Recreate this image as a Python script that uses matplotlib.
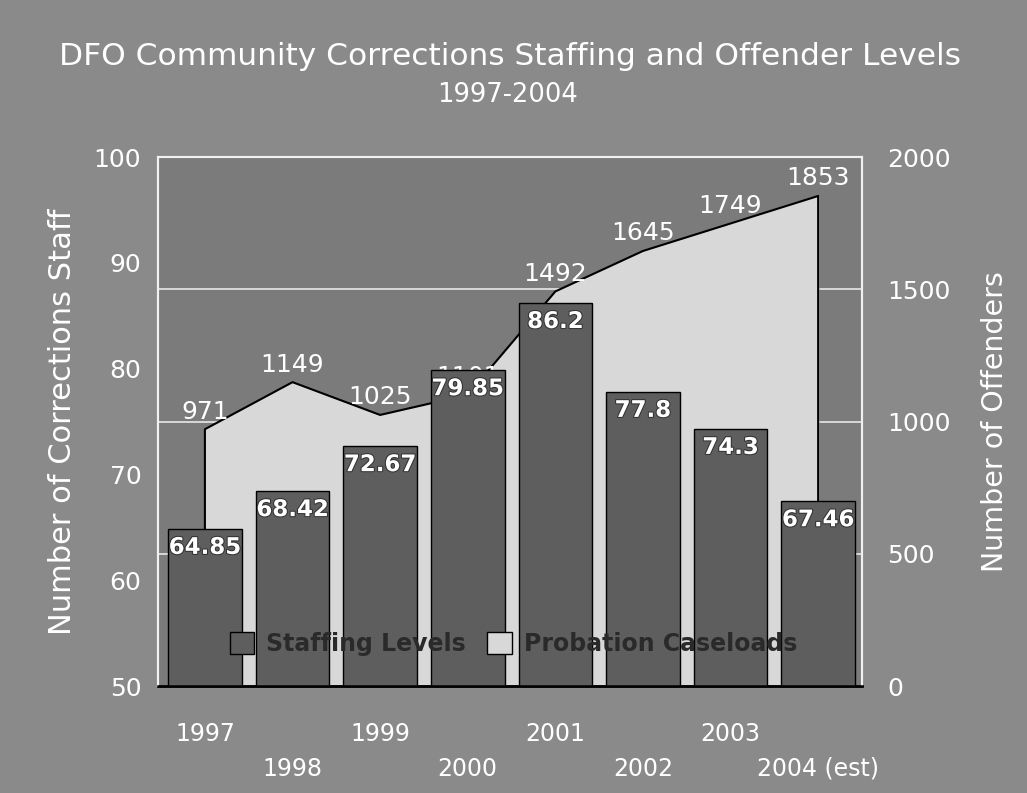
import numpy as np
import matplotlib
matplotlib.use('Agg')
from matplotlib import pyplot as plt
from matplotlib.patches import Patch
import matplotlib.patheffects as pe

# data
years = ['1997', '1998', '1999', '2000', '2001', '2002', '2003', '2004 (est)']
staff = [64.85, 68.42, 72.67, 79.85, 86.2, 77.8, 74.3, 67.46]
caseload = [971, 1149, 1025, 1101, 1492, 1645, 1749, 1853]

bg = '#8a8a8a'
plotbg = '#7b7b7b'
barcol = '#5e5e5e'
areacol = '#d8d8d8'
white = 'white'

plt.rcParams['font.family'] = 'DejaVu Sans'

fig = plt.figure(figsize=(10.27, 7.93), dpi=100, facecolor=bg)
ax2 = fig.add_axes([0.1538, 0.1349, 0.6855, 0.667])
ax = ax2.twinx()
# bars (left scale) sit above the area (right scale)
ax.set_zorder(ax2.get_zorder() + 1)
ax.patch.set_visible(False)
ax2.set_facecolor(plotbg)

x = np.arange(len(years))

# ---- area: probation caseloads (right axis, drawn on ax2) ----
ax2.fill_between(x, 0, caseload, color=areacol, zorder=2)
ax2.plot(np.r_[x[0], x, x[-1]], np.r_[0, caseload, 0], color='black', lw=1.5, zorder=3)
for xi, v in zip(x, caseload):
    ax2.annotate(str(v), (xi, v), xytext=(0, 4), textcoords='offset points',
                 ha='center', va='bottom', fontsize=18, color=white, zorder=4)
ax2.set_ylim(0, 2000)
ax2.set_yticks([0, 500, 1000, 1500, 2000])
ax2.grid(axis='y', color='#e8e8e8', lw=1.2, zorder=0)
ax2.set_axisbelow(True)

# ---- bars: staffing levels (left axis) ----
bars = ax.bar(x, staff, width=0.84, bottom=0, color=barcol, edgecolor='black', lw=1.0, zorder=2)
for xi, v in zip(x, staff):
    ax.annotate(f'{v:g}', (xi, v), xytext=(0, -5), textcoords='offset points',
                ha='center', va='top', fontsize=16.5, fontweight='bold', color=white, zorder=4,
                path_effects=[pe.withStroke(linewidth=1.5, foreground='#333333')])
ax.set_ylim(50, 100)
ax.set_xlim(-0.536, 7.5)

# left axis lives on ax2's side: move ticks around
ax.yaxis.tick_left()
ax.yaxis.set_label_position('left')
ax2.yaxis.tick_right()
ax2.yaxis.set_label_position('right')
ax.set_yticks([50, 60, 70, 80, 90, 100])
ax.tick_params(axis='y', length=0, pad=12, labelsize=18, labelcolor=white)
ax2.tick_params(axis='y', length=0, pad=18, labelsize=18, labelcolor=white)

# staggered x labels (shared x axis is drawn by ax2)
ax2.set_xticks(x[::2])
ax2.set_xticklabels(years[::2])
ax2.set_xticks(x[1::2], minor=True)
ax2.set_xticklabels(years[1::2], minor=True)
ax2.tick_params(axis='x', which='major', length=0, pad=26, labelsize=17, labelcolor=white)
ax2.tick_params(axis='x', which='minor', length=0, pad=51, labelsize=17, labelcolor=white)
ax.tick_params(axis='x', which='both', length=0, labelbottom=False)

ax.set_ylabel('Number of Corrections Staff', fontsize=22, color=white, labelpad=12)
ax2.set_ylabel('Number of Offenders', fontsize=20.5, color=white, labelpad=22)

for a in (ax, ax2):
    for s in ('top', 'left', 'right'):
        a.spines[s].set_color('#f0f0f0')
        a.spines[s].set_linewidth(1.5)
    a.spines['bottom'].set_color('black')
    a.spines['bottom'].set_linewidth(1.8)

handles = [Patch(facecolor=barcol, edgecolor='black', label='Staffing Levels'),
           Patch(facecolor=areacol, edgecolor='black', label='Probation Caseloads')]
leg = ax.legend(handles=handles, loc='center', bbox_to_anchor=(0.505, 0.08), ncol=2,
                frameon=False, prop={'weight': 'bold', 'size': 17}, handlelength=1.05,
                handleheight=1.05, handletextpad=0.5, columnspacing=0.9)
for t in leg.get_texts():
    t.set_color('#2a2a2a')

fig.text(0.497, 0.929, 'DFO Community Corrections Staffing and Offender Levels',
         ha='center', va='center', fontsize=22.5, color=white)
fig.text(0.494, 0.880, '1997-2004', ha='center', va='center', fontsize=18.5, color=white)

fig.savefig('out.png', dpi=100, facecolor=bg)
